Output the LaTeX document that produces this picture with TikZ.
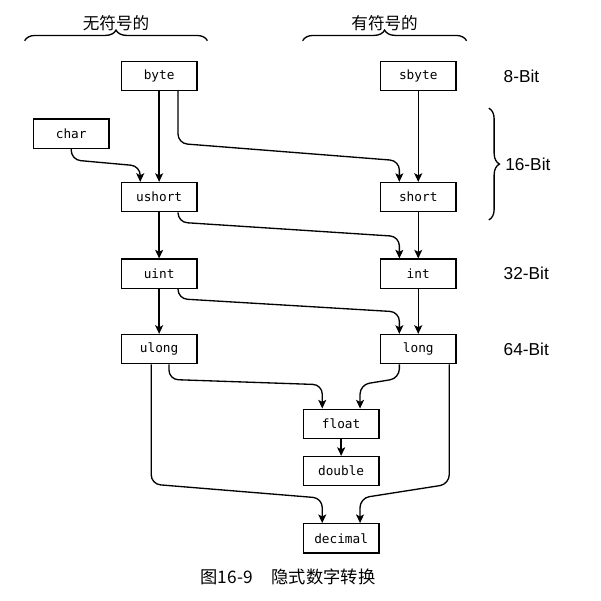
\documentclass[tikz,border=0pt]{standalone}
\usepackage{fontspec}
\setsansfont{Liberation Sans}
\setmonofont{DejaVu Sans Mono}
\newfontfamily\cjk{Noto Sans CJK SC}
\usetikzlibrary{arrows.meta,positioning,calc,decorations.pathreplacing}

\begin{document}
\begin{tikzpicture}[
            >={Stealth[length=6.5pt,width=6pt,inset=1.5pt]},
            tp/.style={draw, line width=1pt, inner sep=0pt,
                       minimum width=2cm, minimum height=0.77cm,
                       font=\fontsize{9.6}{11}\selectfont\ttfamily},
            cv/.style={->, line width=1pt, rounded corners=7pt},
            bits/.style={font=\fontsize{13}{15}\selectfont\sffamily},
            grp/.style={font=\cjk\fontsize{12.5}{14}\selectfont},
            brc/.style={decorate, decoration={brace, amplitude=8pt}, line width=1pt}
          ]
          \useasboundingbox (0,0) rectangle (15.9,-15.9);
          \node[tp] (byte) at (4.21,-2.01) {byte};
          \node[tp, right=4.82cm of byte]                 (sbyte)   {sbyte};
          \node[tp, below left=0.72cm and 0.29cm of byte] (char)    {char};
          \node[tp, below=2.40cm of byte]                 (ushort)  {ushort};
          \node[tp, below=2.40cm of sbyte]                (short)   {short};
          \node[tp, below=1.22cm of ushort]               (uint)    {uint};
          \node[tp, below=1.22cm of short]                (int)     {int};
          \node[tp, below=1.19cm of uint]                 (ulong)   {ulong};
          \node[tp, below=1.19cm of int]                  (long)    {long};
          \node[tp, below right=1.17cm and 2.78cm of ulong] (float) {float};
          \node[tp, below=0.45cm of float]                (double)  {double};
          \node[tp, below=0.97cm of double]               (decimal) {decimal};
          \node[bits, right=1.12cm of sbyte] (b8)  {8-Bit};
          \node[bits, right=1.12cm of int]   (b32) {32-Bit};
          \node[bits, right=1.12cm of long]  (b64) {64-Bit};
          \draw[brc] ([shift={(0.85,-0.45)}]sbyte.south east) -- ([shift={(0.85,-0.2)}]short.south east)
                node[bits, midway, right=0.3cm] (b16) {16-Bit};
          \draw[brc] ([shift={(-2.54,0.53)}]byte.north west) -- ([shift={(0.26,0.53)}]byte.north east)
                node[grp, midway, above=0.12cm] (uns) {无符号的};
          \draw[brc] ([shift={(-2.04,0.53)}]sbyte.north west) -- ([shift={(0.26,0.53)}]sbyte.north east)
                node[grp, midway, above=0.12cm] (sgn) {有符号的};
          \node[font=\cjk\fontsize{13}{15}\selectfont] (cap) at (7.62,-15.27) {图16-9\hspace{1.1em}隐式数字转换};
          \draw[cv] (byte.south) -- (ushort.north);
          \draw[cv] (sbyte.south) -- (short.north);
          \draw[cv] (ushort.south) -- (uint.north);
          \draw[cv] (short.south) -- (int.north);
          \draw[cv] (uint.south) -- (ulong.north);
          \draw[cv] (int.south) -- (long.north);
          \draw[cv] (float.south) -- (double.north);
          \draw[cv] ([xshift=.5cm]byte.south) -- ++(0,-1.38) -- ([shift={(-.5,.56)}]short.north) -- ([xshift=-.5cm]short.north);
          \draw[cv] (char.south) -- ++(0,-0.29) -- ([shift={(-.5,.42)}]ushort.north) -- ([xshift=-.5cm]ushort.north);
          \draw[cv] ([xshift=.5cm]ushort.south) -- ++(0,-0.26) -- ([shift={(-.5,.58)}]int.north) -- ([xshift=-.5cm]int.north);
          \draw[cv] ([xshift=.5cm]uint.south) -- ++(0,-0.26) -- ([shift={(-.5,.58)}]long.north) -- ([xshift=-.5cm]long.north);
          \draw[cv] ([xshift=.26cm]ulong.south) -- ++(0,-0.4) -- ([shift={(-.5,.63)}]float.north) -- ([xshift=-.5cm]float.north);
          \draw[cv] ([xshift=-.5cm]long.south) -- ++(0,-0.37) -- ([shift={(.5,.63)}]float.north) -- ([xshift=.5cm]float.north);
          \draw[cv] ([xshift=-.21cm]ulong.south) -- ++(0,-3.17) -- ([shift={(-.5,.66)}]decimal.north) -- ([xshift=-.5cm]decimal.north);
          \draw[cv] ([xshift=.82cm]long.south) -- ++(0,-3.17) -- ([shift={(.5,.66)}]decimal.north) -- ([xshift=.5cm]decimal.north);
        \end{tikzpicture}
\end{document}
